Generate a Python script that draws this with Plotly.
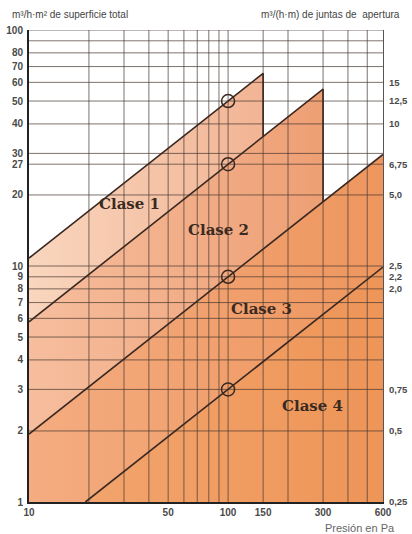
import math
import plotly.graph_objects as go

#%% data (pressure in Pa, flow in m3/h.m2)
class_names = ['Clase 1', 'Clase 2', 'Clase 3', 'Clase 4']

#points along each class limit line (straight on log-log)
c1_p = [10, 100, 150]
c1_q = [10.8, 50, 65.5]
c2_p = [10, 100, 150, 300]
c2_q = [5.8, 27, 35.4, 56.2]
c3_p = [10, 100, 300, 600]
c3_q = [1.94, 9, 18.7, 29.7]
c4_p = [19.2, 100, 600]
c4_q = [1.0, 3, 9.9]

#reference points at 100 Pa (circles)
ref_p = [100, 100, 100, 100]
ref_q = [50, 27, 9, 3]

#ticks
x_ticks = [10, 50, 100, 150, 300, 600]
y_ticks = [1, 2, 3, 4, 5, 6, 7, 8, 9, 10, 20, 27, 30, 40, 50, 60, 70, 80, 100]
right_pos = [1, 2, 3, 8, 9, 10, 20, 27, 40, 50, 60]
right_text = ['0,25', '0,5', '0,75', '2,0', '2,2', '2,5', '5,0', '6,75', '10', '12,5', '15']

#grid lines
x_grid = [20, 30, 40, 50, 60, 70, 80, 90, 100, 150, 200, 300, 400, 500]
y_grid = [2, 3, 4, 5, 6, 7, 8, 9, 10, 20, 27, 30, 40, 50, 60, 70, 80, 90, 100]

x_min, x_max = 10, 600
y_min, y_max = 1, 100

#%% styles
fill_scales = [
    [[0, '#F9D6BE'], [1, '#F2B494']],
    [[0, '#F6BE9E'], [1, '#EE9F74']],
    [[0, '#F4AC80'], [1, '#EE965E']],
    [[0, '#F2A46C'], [1, '#EE9558']],
]
line_col = '#3a2820'
grid_col = 'rgba(70,55,48,0.7)'


def upto(p, q, pmax):
    return [a for a in p if a <= pmax], [b for a, b in zip(p, q) if a <= pmax]


fig = go.Figure()

#%% filled class regions
polys = []
# clase 1: between line 1 and line 2, up to 150 Pa
x1, y1 = upto(c2_p, c2_q, c1_p[-1])
polys.append((c1_p + x1[::-1], c1_q + y1[::-1]))
# clase 2: between line 2 and line 3, up to 300 Pa
x2, y2 = upto(c3_p, c3_q, c2_p[-1])
polys.append((c2_p + x2[::-1], c2_q + y2[::-1]))
# clase 3 and 4
polys.append((c3_p + c4_p[::-1] + [x_min], c3_q + c4_q[::-1] + [y_min]))
polys.append((c4_p + [x_max], c4_q + [y_min]))

for (px, py), cs in zip(polys, fill_scales):
    fig.add_trace(go.Scatter(x=px, y=py, mode='lines', fill='toself',
                             fillgradient=dict(type='horizontal', colorscale=cs),
                             line=dict(width=0), hoverinfo='skip', showlegend=False))

#%% grid drawn above the fills
gx, gy = [], []
for v in x_grid:
    gx += [v, v, None]
    gy += [y_min, y_max, None]
for v in y_grid:
    gx += [x_min, x_max, None]
    gy += [v, v, None]
fig.add_trace(go.Scatter(x=gx, y=gy, mode='lines', line=dict(color=grid_col, width=1),
                         hoverinfo='skip', showlegend=False))

#%% class limit lines, with the vertical drops at the end pressures
for lp, lq, nxt in [(c1_p, c1_q, (c2_p, c2_q)), (c2_p, c2_q, (c3_p, c3_q)),
                    (c3_p, c3_q, None), (c4_p, c4_q, None)]:
    xs, ys = list(lp), list(lq)
    if nxt is not None:
        #drop down to the next class line at the end pressure
        k = nxt[0].index(lp[-1])
        xs.append(lp[-1])
        ys.append(nxt[1][k])
    fig.add_trace(go.Scatter(x=xs, y=ys, mode='lines', line=dict(color=line_col, width=1.6),
                             hoverinfo='skip', showlegend=False))

fig.add_trace(go.Scatter(x=ref_p, y=ref_q, mode='markers',
                         marker=dict(symbol='circle-open', size=13, color=line_col,
                                     line=dict(width=1.5)),
                         hoverinfo='skip', showlegend=False))

#dummy trace for the right axis
fig.add_trace(go.Scatter(x=[x_min], y=[y_min], yaxis='y2', mode='markers',
                         marker=dict(opacity=0), hoverinfo='skip', showlegend=False))

#%% class labels (log axes -> annotation coords in log10)
label_pos = [(32, 18.3), (89, 14.2), (147, 6.6), (264, 2.55)]
for name, (lx, ly) in zip(class_names, label_pos):
    fig.add_annotation(x=math.log10(lx), y=math.log10(ly), xref='x', yref='y',
                       text='<b>%s</b>' % name, showarrow=False,
                       font=dict(family='DejaVu Serif', size=15, color='#3a2a22'))

tick_font = dict(family='Liberation Sans, Arial', size=10, color='#4a4a4a', weight='bold')
fig.update_layout(
    width=412, height=534,
    margin=dict(l=29, r=29, t=30, b=32),
    paper_bgcolor='white', plot_bgcolor='white',
    xaxis=dict(type='log', range=[1, math.log10(x_max)], showgrid=False, zeroline=False,
               tickvals=x_ticks, ticktext=[str(v) for v in x_ticks], tickfont=tick_font,
               ticks='', showline=True, linecolor='#222', linewidth=2, mirror=False,
               automargin=False),
    yaxis=dict(type='log', range=[0, 2], showgrid=False, zeroline=False,
               tickvals=y_ticks, ticktext=[str(v) for v in y_ticks], tickfont=tick_font,
               ticks='', showline=True, linecolor='#222', linewidth=2, ticklabelstandoff=2,
               automargin=False),
    yaxis2=dict(type='log', range=[0, 2], overlaying='y', side='right', showgrid=False,
                zeroline=False, tickvals=right_pos, ticktext=right_text,
                tickfont=dict(family='Liberation Sans, Arial', size=9.5, color='#4a4a4a',
                              weight='bold'),
                ticks='', showline=True, linecolor='#555', linewidth=1, ticklabelstandoff=3,
                automargin=False),
)

fig.add_annotation(x=-0.054, y=1.032, xref='paper', yref='paper', xanchor='left', yanchor='middle',
                   text='m³/h·m² de superficie total', showarrow=False,
                   font=dict(family='Liberation Sans, Arial', size=10, color='#444'))
fig.add_annotation(x=1.054, y=1.032, xref='paper', yref='paper', xanchor='right', yanchor='middle',
                   text='m³/(h·m) de juntas de  apertura', showarrow=False,
                   font=dict(family='Liberation Sans, Arial', size=10, color='#444'))
fig.add_annotation(x=1.04, y=-0.056, xref='paper', yref='paper', xanchor='right', yanchor='middle',
                   text='Presión en Pa', showarrow=False,
                   font=dict(family='Liberation Sans, Arial', size=11, color='#666'))

#page body has a default 8px margin, drop it so the figure sits at the corner
fig.write_html('out.html', config={'displayModeBar': False},
               post_script="document.body.style.margin='0';")
